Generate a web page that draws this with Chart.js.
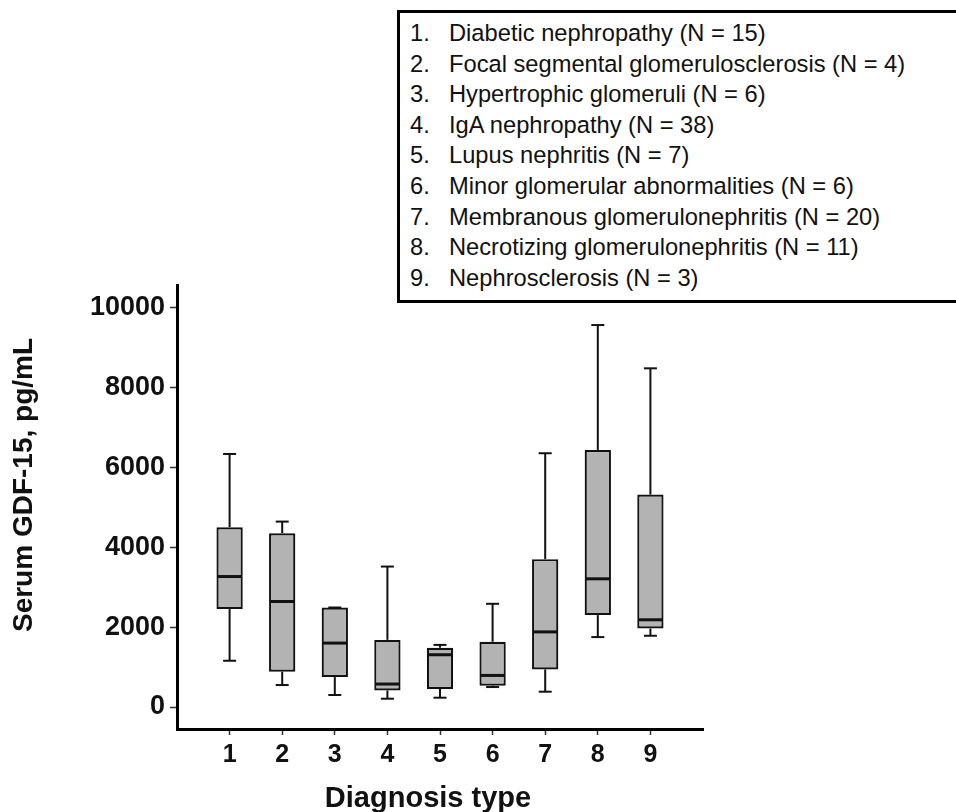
<!DOCTYPE html>
<html>
<head>
<meta charset="utf-8">
<script src="https://cdn.jsdelivr.net/npm/chart.js@4.4.1/dist/chart.umd.min.js"></script>
<style>
  html, body { margin: 0; padding: 0; background: #fff; overflow: hidden; }
  #wrap { position: relative; width: 956px; height: 812px; }
  #key {
    position: absolute; left: 397px; top: 10px;
    width: 640px; height: 293px; box-sizing: border-box;
    border: 3px solid #000; background: #fff;
    padding: 5px 0 0 10px;
    font-family: "Liberation Sans", Arial, sans-serif; font-size: 23.7px;
    line-height: 30.6px; color: #111; white-space: nowrap;
  }
  #key .num { display: inline-block; width: 39px; }
</style>
</head>
<body>
<div id="wrap">
  <canvas id="myChart" width="956" height="812"></canvas>
  <div id="key"></div>
</div>
<script>
// diagnosis groups (x axis) and box plot summary values, pg/mL
const categories = ["1", "2", "3", "4", "5", "6", "7", "8", "9"];
const diagnoses = [
  "Diabetic nephropathy",
  "Focal segmental glomerulosclerosis",
  "Hypertrophic glomeruli",
  "IgA nephropathy",
  "Lupus nephritis",
  "Minor glomerular abnormalities",
  "Membranous glomerulonephritis",
  "Necrotizing glomerulonephritis",
  "Nephrosclerosis"
];
const groupN = [15, 4, 6, 38, 7, 6, 20, 11, 3];

const whiskerMin = [1158, 550, 300, 208, 233, 500, 383, 1750, 1783];
const q1 = [2450, 883, 750, 415, 450, 533, 940, 2300, 1965];
const median = [3265, 2640, 1600, 575, 1308, 790, 1880, 3208, 2183];
const q3 = [4500, 4350, 2490, 1680, 1480, 1633, 3700, 6433, 5315];
const whiskerMax = [6332, 4640, 2490, 3515, 1555, 2583, 6350, 9558, 8475];

const yTicks = [0, 2000, 4000, 6000, 8000, 10000];

// key box
const key = document.getElementById("key");
diagnoses.forEach((d, i) => {
  const row = document.createElement("div");
  row.innerHTML = '<span class="num">' + categories[i] + '.</span>' + d + " (N = " + groupN[i] + ")";
  key.appendChild(row);
});

const FONT = '"Liberation Sans", Arial, sans-serif';

// padded so the axis runs half a step past the first and last box
const labels = [""].concat(categories, [""]);
const boxes = [null].concat(q1.map((v, i) => [v, q3[i]]), [null]);

const whiskerPlugin = {
  id: "whiskers",
  afterDatasetsDraw(chart) {
    const ctx = chart.ctx;
    const y = chart.scales.y;
    const meta = chart.getDatasetMeta(0);
    const line = (x1, y1, x2, y2) => {
      ctx.beginPath();
      ctx.moveTo(x1, y1);
      ctx.lineTo(x2, y2);
      ctx.stroke();
    };
    ctx.save();
    ctx.strokeStyle = "#111";
    categories.forEach((c, i) => {
      const bar = meta.data[i + 1];
      const x = bar.x, half = bar.width / 2, cap = 6.5;
      const yMin = y.getPixelForValue(whiskerMin[i]);
      const yQ1 = y.getPixelForValue(q1[i]);
      const yMed = y.getPixelForValue(median[i]);
      const yQ3 = y.getPixelForValue(q3[i]);
      const yMax = y.getPixelForValue(whiskerMax[i]);
      ctx.lineWidth = 2;
      line(x, yQ3, x, yMax);
      line(x, yQ1, x, yMin);
      line(x - cap, yMax, x + cap, yMax);
      line(x - cap, yMin, x + cap, yMin);
      ctx.lineWidth = 3;
      line(x - half + 1, yMed, x + half - 1, yMed);
    });
    ctx.restore();
  }
};

const titlePlugin = {
  id: "axisTitles",
  afterDraw(chart) {
    const ctx = chart.ctx;
    ctx.save();
    ctx.fillStyle = "#111";
    ctx.font = "bold 28px " + FONT;
    ctx.textAlign = "center";
    ctx.textBaseline = "alphabetic";
    ctx.translate(32, 485);
    ctx.rotate(-Math.PI / 2);
    ctx.fillText("Serum GDF-15, pg/mL", 0, 0);
    ctx.restore();

    ctx.save();
    ctx.fillStyle = "#111";
    ctx.font = "bold 29px " + FONT;
    ctx.textAlign = "center";
    ctx.textBaseline = "alphabetic";
    ctx.fillText("Diagnosis type", 428, 807);
    ctx.restore();
  }
};

const ctx = document.getElementById("myChart").getContext("2d");
new Chart(ctx, {
  type: "bar",
  data: {
    labels: labels,
    datasets: [{
      data: boxes,
      backgroundColor: "#b3b3b3",
      borderColor: "#111",
      borderWidth: 2.2,
      borderSkipped: false,
      categoryPercentage: 1,
      barPercentage: 0.5
    }]
  },
  options: {
    responsive: false,
    animation: false,
    devicePixelRatio: 1,
    layout: { padding: { left: 0, top: 285, right: 253, bottom: 0 } },
    plugins: { legend: { display: false }, tooltip: { enabled: false } },
    scales: {
      x: {
        type: "category",
        offset: false,
        afterFit: s => { s.height = 83; },
        border: { display: true, color: "#000", width: 3 },
        grid: {
          offset: false,
          drawOnChartArea: false,
          tickLength: 6,
          tickWidth: 1.5,
          tickColor: c => (c.index === 0 || c.index === labels.length - 1) ? "rgba(0,0,0,0)" : "#333"
        },
        ticks: {
          color: "#111",
          autoSkip: false,
          maxRotation: 0,
          padding: 5,
          font: { family: FONT, size: 25, weight: "bold" }
        }
      },
      y: {
        min: -550,
        max: 10560,
        afterBuildTicks: s => { s.ticks = yTicks.map(v => ({ value: v })); },
        afterFit: s => { s.width = 177; },
        border: { display: true, color: "#000", width: 3 },
        grid: { drawOnChartArea: false, tickLength: 7, tickWidth: 1.5, tickColor: "#333" },
        ticks: {
          color: "#111",
          padding: 5,
          callback: v => String(v),
          font: { family: FONT, size: 27, weight: "bold" }
        }
      }
    }
  },
  plugins: [whiskerPlugin, titlePlugin]
});
</script>
</body>
</html>
